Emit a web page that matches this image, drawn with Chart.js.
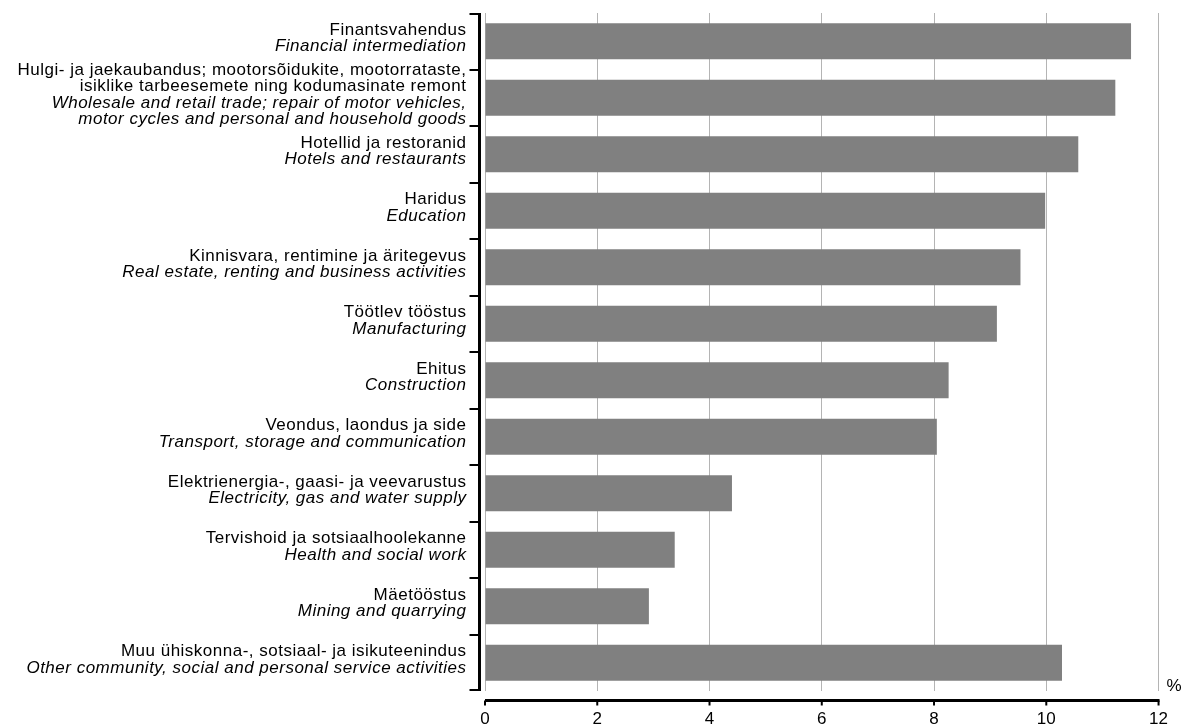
<!DOCTYPE html>
<html>
<head>
<meta charset="utf-8">
<script src="https://cdn.jsdelivr.net/npm/chart.js@4"></script>
<style>
  html, body { margin: 0; padding: 0; background: #fff; }
  #wrap { width: 1186px; height: 727px; position: relative; }
</style>
</head>
<body>
<div id="wrap"><canvas id="chart" width="1186" height="727"></canvas></div>
<script>
// category labels, Estonian (normal) and English (italic)
const labelsEt = [
  ['Finantsvahendus'],
  ['Hulgi- ja jaekaubandus; mootorsõidukite, mootorrataste,', 'isiklike tarbeesemete ning kodumasinate remont'],
  ['Hotellid ja restoranid'],
  ['Haridus'],
  ['Kinnisvara, rentimine ja äritegevus'],
  ['Töötlev tööstus'],
  ['Ehitus'],
  ['Veondus, laondus ja side'],
  ['Elektrienergia-, gaasi- ja veevarustus'],
  ['Tervishoid ja sotsiaalhoolekanne'],
  ['Mäetööstus'],
  ['Muu ühiskonna-, sotsiaal- ja isikuteenindus']
];
const labelsEn = [
  ['Financial intermediation'],
  ['Wholesale and retail trade; repair of motor vehicles,', 'motor cycles and personal and household goods'],
  ['Hotels and restaurants'],
  ['Education'],
  ['Real estate, renting and business activities'],
  ['Manufacturing'],
  ['Construction'],
  ['Transport, storage and communication'],
  ['Electricity, gas and water supply'],
  ['Health and social work'],
  ['Mining and quarrying'],
  ['Other community, social and personal service activities']
];
const values = [11.51, 11.23, 10.57, 9.98, 9.54, 9.12, 8.26, 8.05, 4.40, 3.38, 2.92, 10.28];
const xTicks = [0, 2, 4, 6, 8, 10, 12];
const unitLabel = '%';

const FONT = '"Liberation Sans", Arial, sans-serif';

// draws the offset axes, category labels and unit sign
const axesPlugin = {
  id: 'axesPlugin',
  afterDraw(chart) {
    const ctx = chart.ctx;
    const area = chart.chartArea;
    const x = chart.scales.x;
    const y = chart.scales.y;
    ctx.save();

    // y axis line
    const yAxisX = area.left - 5.5;
    ctx.strokeStyle = '#000';
    ctx.lineWidth = 3;
    ctx.beginPath();
    ctx.moveTo(yAxisX, area.top);
    ctx.lineTo(yAxisX, area.bottom);
    ctx.stroke();

    // boundary ticks between categories
    const n = labelsEt.length;
    const step = (y.getPixelForValue(1) - y.getPixelForValue(0));
    ctx.lineWidth = 2;
    for (let i = 0; i <= n; i++) {
      const py = Math.round(y.getPixelForValue(i) - step / 2) + (i === 0 ? 1 : 0) - (i === n ? 1 : 0);
      ctx.beginPath();
      ctx.moveTo(yAxisX - 10, py);
      ctx.lineTo(yAxisX, py);
      ctx.stroke();
    }

    // category labels
    const lineH = 16.3;
    ctx.fillStyle = '#000';
    ctx.textAlign = 'right';
    ctx.textBaseline = 'middle';
    ctx.letterSpacing = '0.5px';
    for (let i = 0; i < n; i++) {
      const lines = labelsEt[i].map(t => [t, false]).concat(labelsEn[i].map(t => [t, true]));
      const cy = y.getPixelForValue(i) - 3;
      const start = cy - (lines.length - 1) * lineH / 2;
      lines.forEach(([t, it], k) => {
        ctx.font = (it ? 'italic ' : '') + '17px ' + FONT;
        ctx.fillText(t, 466.5, start + k * lineH);
      });
    }

    // x axis line
    const xAxisY = area.bottom + 9.5;
    ctx.lineWidth = 3;
    ctx.beginPath();
    ctx.moveTo(x.getPixelForValue(xTicks[0]), xAxisY);
    ctx.lineTo(x.getPixelForValue(xTicks[xTicks.length - 1]) + 1, xAxisY);
    ctx.stroke();
    ctx.lineWidth = 2;
    xTicks.forEach(v => {
      const px = x.getPixelForValue(v);
      ctx.beginPath();
      ctx.moveTo(px, xAxisY);
      ctx.lineTo(px, xAxisY + 5);
      ctx.stroke();
    });

    // unit
    ctx.font = '17px ' + FONT;
    ctx.textAlign = 'left';
    ctx.fillText(unitLabel, area.right + 8, area.bottom - 5);
    ctx.restore();
  }
};

const ctx = document.getElementById('chart');
const myChart = new Chart(ctx, {
  type: 'bar',
  data: {
    labels: labelsEn.map(l => l.join(' ')),
    datasets: [{
      data: values,
      backgroundColor: '#808080',
      borderWidth: 0,
      categoryPercentage: 0.8,
      barPercentage: 0.8
    }]
  },
  options: {
    indexAxis: 'y',
    responsive: false,
    animation: false,
    devicePixelRatio: 1,
    layout: { padding: { left: 485, top: 13, right: 21, bottom: 0 } },
    plugins: {
      legend: { display: false },
      tooltip: { enabled: false }
    },
    scales: {
      x: {
        min: 0,
        max: 12,
        afterBuildTicks: (scale) => { scale.ticks = xTicks.map(v => ({ value: v })); },
        afterFit: (scale) => { scale.height = 36; },
        grid: { color: '#b4b4b4', lineWidth: 1, drawTicks: false },
        border: { display: false },
        ticks: {
          padding: 18,
          color: '#000',
          font: { family: FONT, size: 17 },
          maxRotation: 0
        }
      },
      y: {
        display: false
      }
    }
  },
  plugins: [axesPlugin]
});
</script>
</body>
</html>
